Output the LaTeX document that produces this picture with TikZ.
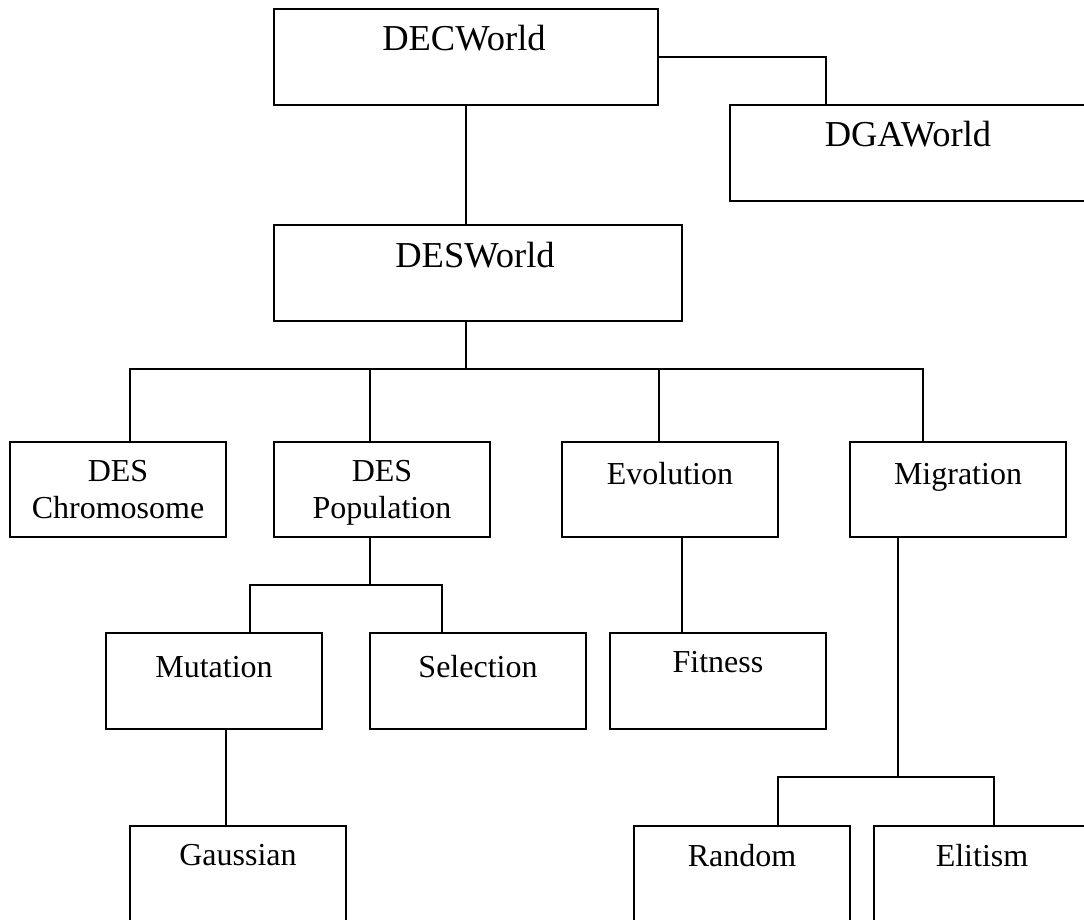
\documentclass[tikz,border=0pt]{standalone}
\usepackage{fontspec}
\setmainfont{Liberation Serif}
\begin{document}
\begin{tikzpicture}[x=1pt,y=-1pt,
  box/.style={draw=black, line width=1.8pt, inner sep=0pt, outer sep=0pt, anchor=north west,
              minimum width=216pt, minimum height=96pt},
  link/.style={draw=black, line width=1.8pt},
  biglbl/.style={inner sep=0pt, anchor=base, font=\fontsize{36.5}{42}\selectfont},
  lbl/.style={inner sep=0pt, anchor=base, font=\fontsize{32}{37}\selectfont},
  twolbl/.style={inner sep=0pt, anchor=north, align=center, font=\fontsize{32}{37}\selectfont}]
\useasboundingbox (0,0) rectangle (1084,920);
\clip (0,0) rectangle (1084,920);

% boxes
\node[box, minimum width=384pt] (dec) at (274,9) {};
\node[box, minimum width=356pt] (dga) at (730,105) {};
\node[box, minimum width=408pt] (des) at (274,225) {};
\node[box, minimum height=95pt] (chrom) at (10,442) {};
\node[box, minimum height=95pt] (pop) at (274,442) {};
\node[box, minimum height=95pt] (evo) at (562,442) {};
\node[box, minimum height=95pt] (mig) at (850,442) {};
\node[box] (mut) at (106,633) {};
\node[box] (sel) at (370,633) {};
\node[box] (fit) at (610,633) {};
\node[box] (gau) at (130,826) {};
\node[box] (rnd) at (634,826) {};
\node[box] (eli) at (874,826) {};

% labels
\node[biglbl] (decT) at ([yshift=-42pt,xshift=-2pt]dec.north) {DECWorld};
\node[biglbl] (dgaT) at ([yshift=-42pt]dga.north) {DGAWorld};
\node[biglbl] (desT) at ([yshift=-42pt,xshift=-3pt]des.north) {DESWorld};
\node[twolbl] (chromT) at ([yshift=-18pt]chrom.north) {DES\\Chromosome};
\node[twolbl] (popT) at ([yshift=-18pt]pop.north) {DES\\Population};
\node[lbl] (evoT) at ([yshift=-42pt]evo.north) {Evolution};
\node[lbl] (migT) at ([yshift=-42pt]mig.north) {Migration};
\node[lbl] (mutT) at ([yshift=-44pt]mut.north) {Mutation};
\node[lbl] (selT) at ([yshift=-44pt]sel.north) {Selection};
\node[lbl] (fitT) at ([yshift=-39pt]fit.north) {Fitness};
\node[lbl] (gauT) at ([yshift=-39pt]gau.north) {Gaussian};
\node[lbl] (rndT) at ([yshift=-40pt]rnd.north) {Random};
\node[lbl] (eliT) at ([yshift=-40pt]eli.north) {Elitism};

% junction points of the connector buses
\coordinate (hub) at (dec.south |- 0,369);
\coordinate (hubpop) at (370,585);
\coordinate (hubmig) at (898,777);

% connectors
\draw[link] (dec.east) -| ([xshift=96pt]dga.north west);
\draw[link] (dec.south) -- (dec.south |- des.north);
\draw[link] (dec.south |- des.south) -- (hub);
\draw[link] ([xshift=120pt]chrom.north west) |- (hub);
\draw[link] ([xshift=96pt]pop.north west) |- (hub);
\draw[link] ([xshift=97pt]evo.north west) |- (hub);
\draw[link] ([xshift=73pt]mig.north west) |- (hub);

\draw[link] ([xshift=96pt]pop.south west) -- (hubpop);
\draw[link] ([xshift=144pt]mut.north west) |- (hubpop);
\draw[link] ([xshift=72pt]sel.north west) |- (hubpop);

\draw[link] ([xshift=120pt]evo.south west) -- ([xshift=72pt]fit.north west);

\draw[link] ([xshift=48pt]mig.south west) -- (hubmig);
\draw[link] ([xshift=144pt]rnd.north west) |- (hubmig);
\draw[link] ([xshift=120pt]eli.north west) |- (hubmig);

\draw[link] ([xshift=120pt]mut.south west) -- ([xshift=96pt]gau.north west);
\end{tikzpicture}
\end{document}
